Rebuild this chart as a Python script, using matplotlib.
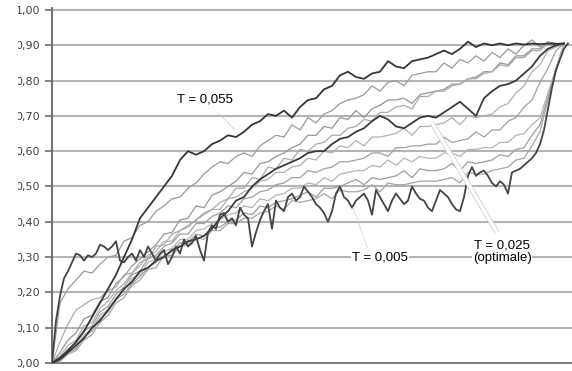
import numpy as np
import matplotlib
matplotlib.use("Agg")
import matplotlib.pyplot as plt
from matplotlib.patches import Rectangle

# --- data (x = iteration step, y = score) ---
steps = np.arange(0, 520, 8)          # coarse curves
steps_fine = np.arange(0, 520, 4)     # the noisy T = 0,005 run

t055 = [0.00, 0.015, 0.035, 0.06, 0.09, 0.13, 0.17, 0.21,
        0.25, 0.30, 0.35, 0.41, 0.44, 0.47, 0.50, 0.53,
        0.575, 0.60, 0.59, 0.60, 0.62, 0.63, 0.645, 0.64,
        0.655, 0.675, 0.685, 0.705, 0.70, 0.715, 0.695, 0.725,
        0.745, 0.75, 0.775, 0.785, 0.815, 0.825, 0.81, 0.805,
        0.82, 0.825, 0.855, 0.84, 0.835, 0.855, 0.86, 0.865,
        0.875, 0.885, 0.875, 0.89, 0.91, 0.895, 0.905, 0.90,
        0.905, 0.90, 0.905, 0.902, 0.905, 0.903, 0.905, 0.904,
        0.905]

t025 = [0.00, 0.01, 0.03, 0.05, 0.07, 0.10, 0.12, 0.15,
        0.18, 0.21, 0.23, 0.26, 0.27, 0.29, 0.30, 0.32,
        0.33, 0.345, 0.35, 0.36, 0.38, 0.41, 0.43, 0.46,
        0.47, 0.50, 0.52, 0.535, 0.55, 0.56, 0.57, 0.58,
        0.595, 0.60, 0.60, 0.62, 0.635, 0.64, 0.655, 0.665,
        0.685, 0.70, 0.69, 0.67, 0.665, 0.68, 0.695, 0.70,
        0.695, 0.71, 0.725, 0.74, 0.72, 0.70, 0.75, 0.77,
        0.785, 0.79, 0.80, 0.82, 0.84, 0.87, 0.89, 0.90,
        0.905]

t005 = [0.00, 0.12, 0.19, 0.24, 0.26, 0.285, 0.31, 0.305,
        0.29, 0.305, 0.30, 0.31, 0.335, 0.33, 0.32, 0.33,
        0.345, 0.29, 0.285, 0.30, 0.31, 0.29, 0.32, 0.30,
        0.33, 0.31, 0.29, 0.31, 0.32, 0.28, 0.30, 0.33,
        0.31, 0.35, 0.33, 0.34, 0.36, 0.32, 0.29, 0.37,
        0.39, 0.38, 0.42, 0.425, 0.40, 0.41, 0.39, 0.44,
        0.42, 0.41, 0.33, 0.37, 0.405, 0.43, 0.45, 0.38,
        0.46, 0.44, 0.43, 0.47, 0.48, 0.46, 0.47, 0.50,
        0.485, 0.47, 0.45, 0.44, 0.425, 0.40, 0.43, 0.48,
        0.50, 0.47, 0.46, 0.44, 0.46, 0.47, 0.48, 0.46,
        0.42, 0.49, 0.47, 0.45, 0.43, 0.46, 0.48, 0.465,
        0.45, 0.46, 0.50, 0.48, 0.465, 0.46, 0.44, 0.43,
        0.46, 0.49, 0.48, 0.47, 0.45, 0.435, 0.43, 0.47,
        0.53, 0.555, 0.53, 0.54, 0.545, 0.53, 0.51, 0.50,
        0.515, 0.505, 0.48, 0.54, 0.545, 0.55, 0.56, 0.57,
        0.58, 0.595, 0.62, 0.66, 0.72, 0.78, 0.83, 0.86,
        0.89, 0.905]

t050 = [0.00, 0.17, 0.21, 0.235, 0.26, 0.255, 0.28, 0.30,
        0.305, 0.345, 0.355, 0.39, 0.40, 0.43, 0.445, 0.465,
        0.47, 0.495, 0.51, 0.535, 0.555, 0.57, 0.565, 0.585,
        0.595, 0.585, 0.615, 0.63, 0.645, 0.64, 0.675, 0.66,
        0.695, 0.68, 0.705, 0.715, 0.735, 0.745, 0.75, 0.76,
        0.785, 0.77, 0.795, 0.80, 0.785, 0.815, 0.82, 0.825,
        0.825, 0.85, 0.835, 0.86, 0.85, 0.87, 0.855, 0.88,
        0.865, 0.89, 0.875, 0.90, 0.915, 0.895, 0.905, 0.90,
        0.905]

t045 = [0.00, 0.06, 0.11, 0.15, 0.165, 0.18, 0.185, 0.205,
        0.215, 0.25, 0.255, 0.285, 0.295, 0.33, 0.335, 0.365,
        0.375, 0.39, 0.405, 0.425, 0.435, 0.455, 0.465, 0.495,
        0.495, 0.525, 0.52, 0.555, 0.55, 0.58, 0.575, 0.605,
        0.60, 0.62, 0.625, 0.645, 0.645, 0.665, 0.67, 0.69,
        0.685, 0.71, 0.71, 0.725, 0.73, 0.72, 0.755, 0.755,
        0.77, 0.77, 0.785, 0.79, 0.805, 0.805, 0.82, 0.825,
        0.845, 0.84, 0.865, 0.865, 0.885, 0.885, 0.905, 0.90,
        0.905]

t040 = [0.00, 0.03, 0.065, 0.085, 0.125, 0.135, 0.175, 0.185,
        0.225, 0.245, 0.275, 0.295, 0.315, 0.335, 0.365, 0.37,
        0.405, 0.41, 0.445, 0.44, 0.475, 0.485, 0.50, 0.515,
        0.54, 0.535, 0.565, 0.57, 0.585, 0.595, 0.61, 0.62,
        0.645, 0.645, 0.67, 0.665, 0.695, 0.69, 0.715, 0.695,
        0.72, 0.73, 0.745, 0.745, 0.75, 0.735, 0.76, 0.765,
        0.77, 0.775, 0.79, 0.79, 0.805, 0.81, 0.825, 0.825,
        0.85, 0.845, 0.87, 0.87, 0.89, 0.89, 0.91, 0.905,
        0.905]

t035 = [0.00, 0.02, 0.05, 0.065, 0.105, 0.115, 0.155, 0.175,
        0.205, 0.225, 0.255, 0.275, 0.305, 0.315, 0.345, 0.345,
        0.375, 0.385, 0.405, 0.42, 0.435, 0.435, 0.465, 0.47,
        0.485, 0.495, 0.515, 0.52, 0.54, 0.54, 0.555, 0.56,
        0.58, 0.575, 0.60, 0.595, 0.615, 0.61, 0.63, 0.615,
        0.64, 0.64, 0.645, 0.65, 0.665, 0.645, 0.67, 0.67,
        0.675, 0.68, 0.695, 0.675, 0.70, 0.695, 0.70, 0.705,
        0.725, 0.735, 0.765, 0.785, 0.825, 0.845, 0.885, 0.895,
        0.905]

t030 = [0.00, 0.015, 0.04, 0.055, 0.09, 0.105, 0.145, 0.16,
        0.195, 0.215, 0.25, 0.26, 0.295, 0.305, 0.33, 0.34,
        0.365, 0.365, 0.395, 0.395, 0.415, 0.425, 0.445, 0.44,
        0.465, 0.47, 0.485, 0.49, 0.505, 0.51, 0.525, 0.525,
        0.545, 0.54, 0.55, 0.555, 0.57, 0.57, 0.575, 0.58,
        0.595, 0.595, 0.585, 0.61, 0.61, 0.615, 0.615, 0.62,
        0.62, 0.64, 0.625, 0.63, 0.635, 0.655, 0.64, 0.66,
        0.66, 0.685, 0.695, 0.725, 0.745, 0.795, 0.835, 0.885,
        0.905]

t020 = [0.00, 0.01, 0.035, 0.045, 0.08, 0.095, 0.135, 0.15,
        0.185, 0.205, 0.24, 0.25, 0.285, 0.295, 0.315, 0.325,
        0.35, 0.35, 0.375, 0.38, 0.395, 0.405, 0.42, 0.425,
        0.445, 0.44, 0.465, 0.46, 0.475, 0.48, 0.495, 0.495,
        0.51, 0.505, 0.525, 0.515, 0.535, 0.54, 0.545, 0.545,
        0.56, 0.555, 0.575, 0.56, 0.58, 0.57, 0.585, 0.58,
        0.58, 0.595, 0.595, 0.585, 0.605, 0.605, 0.61, 0.61,
        0.625, 0.625, 0.645, 0.65, 0.675, 0.695, 0.765, 0.835,
        0.905]

t015 = [0.00, 0.01, 0.03, 0.04, 0.075, 0.09, 0.125, 0.145,
        0.18, 0.195, 0.225, 0.245, 0.27, 0.285, 0.305, 0.315,
        0.34, 0.34, 0.365, 0.36, 0.385, 0.385, 0.40, 0.405,
        0.425, 0.42, 0.445, 0.44, 0.455, 0.46, 0.465, 0.475,
        0.485, 0.47, 0.495, 0.495, 0.50, 0.51, 0.52, 0.505,
        0.525, 0.52, 0.525, 0.53, 0.545, 0.525, 0.55, 0.545,
        0.545, 0.55, 0.565, 0.545, 0.57, 0.565, 0.57, 0.575,
        0.59, 0.585, 0.605, 0.61, 0.645, 0.675, 0.755, 0.835,
        0.905]

t010 = [0.00, 0.005, 0.025, 0.035, 0.065, 0.08, 0.115, 0.135,
        0.17, 0.185, 0.22, 0.235, 0.265, 0.27, 0.305, 0.305,
        0.33, 0.335, 0.355, 0.35, 0.375, 0.375, 0.395, 0.395,
        0.41, 0.41, 0.425, 0.43, 0.445, 0.435, 0.46, 0.455,
        0.46, 0.465, 0.48, 0.465, 0.49, 0.485, 0.485, 0.49,
        0.505, 0.485, 0.51, 0.505, 0.505, 0.51, 0.515, 0.515,
        0.515, 0.52, 0.525, 0.51, 0.54, 0.535, 0.535, 0.545,
        0.55, 0.555, 0.575, 0.58, 0.615, 0.655, 0.745, 0.825,
        0.905]

light_runs = [t010, t015, t020, t030, t035, t040, t045, t050]
light_colors = ['#a6a6a6', '#9c9c9c', '#b4b4b4', '#a0a0a0',
                '#b0b0b0', '#959595', '#aaaaaa', '#9a9a9a']

ytick_vals = np.arange(0, 1.01, 0.1)
ytick_labels = [f"{v:.2f}".replace('.', ',') for v in ytick_vals]

# --- figure ---
fig = plt.figure(figsize=(5.72, 3.71), dpi=100)
ax = fig.add_axes([52 / 572, 8 / 371, 520 / 572, 354.8 / 371])

for run, col in zip(light_runs, light_colors):
    ax.plot(steps, run, color=col, lw=0.9, zorder=2)

ax.plot(steps, t025, color='#3a3a3a', lw=1.3, zorder=3)
ax.plot(steps_fine, t005, color='#444444', lw=1.3, zorder=3)
ax.plot(steps, t055, color='#363636', lw=1.3, zorder=3)

ax.set_xlim(0, 520)
ax.set_ylim(0, 1.005)
ax.set_yticks(ytick_vals)
ax.set_yticklabels(ytick_labels)
ax.set_xticks([])
ax.grid(axis='y', color='#b4b4b4', lw=1.5, zorder=1)
ax.set_axisbelow(True)
for s in ('top', 'right'):
    ax.spines[s].set_visible(False)
ax.spines['left'].set_color('#6e6e6e')
ax.spines['left'].set_linewidth(1.4)
ax.spines['bottom'].set_color('#7a7a7a')
ax.spines['bottom'].set_linewidth(1.4)
ax.tick_params(axis='y', length=5, width=1.2, color='#6e6e6e', pad=3.5,
               labelsize=8, labelcolor='#404040')

txt = dict(family=['Liberation Sans', 'DejaVu Sans'], fontsize=9.5, color='black')

# T = 0,055 with a faint leader
ax.annotate('T = 0,055', xy=(183, 0.66), xytext=(153, 0.745),
            ha='center', va='center', **txt,
            arrowprops=dict(arrowstyle='-', color='#c8c8c8', lw=0.5,
                            shrinkA=4, shrinkB=0))

# T = 0,005
ax.annotate('T = 0,005', xy=(301, 0.44), xytext=(300, 0.30),
            ha='left', va='center', **txt,
            bbox=dict(boxstyle='square,pad=0.05', fc='white', ec='none'),
            arrowprops=dict(arrowstyle='-', color='#d0d0d0', lw=0.5,
                            shrinkA=2, shrinkB=0, relpos=(0.3, 1.0)))

# T = 0,025 (optimale), white leader drawn over the curves
ax.plot([380, 445], [0.68, 0.37], color='#c8c8c8', lw=3.6, zorder=4,
        solid_capstyle='butt')
ax.plot([380, 445], [0.68, 0.37], color='white', lw=2.6, zorder=5,
        solid_capstyle='butt')
ax.text(450, 0.315, 'T = 0,025\n(optimale)', ha='center', va='center',
        linespacing=1.05, zorder=6,
        bbox=dict(boxstyle='square,pad=0.05', fc='white', ec='none'), **txt)

# the left edge of the original screenshot cuts the tick labels
fig.add_artist(Rectangle((0, 0), 18 / 572, 1, transform=fig.transFigure,
                         facecolor='white', edgecolor='none', zorder=10))

fig.savefig('out.png', dpi=100)
